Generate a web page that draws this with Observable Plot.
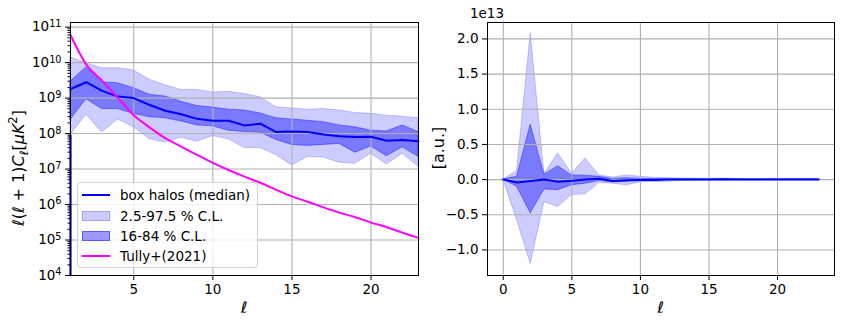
<!DOCTYPE html>
<html><head><meta charset="utf-8">
<script src="https://cdn.jsdelivr.net/npm/d3@7"></script>
<script src="https://cdn.jsdelivr.net/npm/@observablehq/plot@0.6"></script>
<style>
body{margin:0;background:#fff;font-family:"DejaVu Sans",sans-serif;}
#wrap{position:relative;width:843px;height:325px;overflow:hidden;background:#fff;}
#left,#right{position:absolute;top:0;}
#left{left:0;} #right{left:430px;}
.legend{position:absolute;left:77px;top:182px;width:181px;height:86px;border:1px solid #d4d4d4;border-radius:4px;background:rgba(255,255,255,0.8);box-sizing:border-box;font-size:13.5px;color:#000;}
.row{position:absolute;left:4px;height:20px;display:flex;align-items:center;white-space:nowrap;}
.hl{width:28px;height:0;border-top:2px solid;margin-right:10px;}
.hp{width:28px;height:10px;margin-right:10px;box-sizing:border-box;}
</style>
</head><body>
<div id="wrap"><div id="left"></div><div id="right"></div>
<div class="legend">
  <div class="row" style="top:2px"><div class="hl" style="border-color:blue"></div>box halos (median)</div>
  <div class="row" style="top:23px"><div class="hp" style="background:rgba(0,0,255,0.2);border:1px solid rgba(0,0,255,0.2)"></div>2.5-97.5 % C.L.</div>
  <div class="row" style="top:43px"><div class="hp" style="background:rgba(0,0,255,0.4);border:1px solid rgba(0,0,255,0.4)"></div>16-84 % C.L.</div>
  <div class="row" style="top:63px"><div class="hl" style="border-color:magenta"></div>Tully+(2021)</div>
</div>
</div>
<script>
// ---------- Left panel data (l = 1..23) ----------
const ellL = d3.range(1, 24);
const medianL = [1.8e9, 2.8e9, 1.6e9, 1.1e9, 1.0e9, 6.4e8, 4.4e8, 3.5e8, 2.6e8, 2.3e8, 2.3e8, 1.7e8, 1.9e8, 1.1e8, 1.15e8, 1.1e8, 9.4e7, 8.4e7, 8.0e7, 8.1e7, 6.3e7, 6.6e7, 6.1e7];
const hi68L = [2.9e9, 7.3e9, 2.8e9, 2.6e9, 1.9e9, 1.25e9, 1.1e9, 7.9e8, 6.0e8, 5.4e8, 4.7e8, 4.5e8, 3.7e8, 2.7e8, 2.5e8, 2.3e8, 2.1e8, 1.7e8, 1.5e8, 1.2e8, 1.15e8, 1.7e8, 1.1e8];
const lo68L = [2.4e8, 9.3e8, 4.9e8, 4.9e8, 3.6e8, 2.9e8, 2.7e8, 2.2e8, 1.7e8, 1.6e8, 1.2e8, 1.1e8, 1.07e8, 6.6e7, 4.8e7, 4.5e7, 4.8e7, 5.1e7, 2.9e7, 4.3e7, 2.3e7, 4.1e7, 2.2e7];
const hi95L = [1.4e10, 9.6e9, 6.9e9, 6.9e9, 6.0e9, 3.3e9, 2.3e9, 1.7e9, 1.7e9, 1.44e9, 1.5e9, 1.3e9, 1.06e9, 5.5e8, 5.1e8, 4.7e8, 4.9e8, 4.5e8, 3.8e8, 3.6e8, 3.2e8, 3.0e8, 2.7e8];
const lo95L = [9.1e7, 3.4e8, 1.07e8, 2.5e8, 1.5e8, 6.9e7, 5.6e7, 7.7e7, 5.9e7, 8.5e7, 6.9e7, 3.9e7, 3.9e7, 2.5e7, 1.25e7, 2.2e7, 2.1e7, 1.5e7, 1.4e7, 2.7e7, 1.35e7, 2.7e7, 1.17e7];
const tully = [6.0e10, 8.8e9, 3.1e9, 1.0e9, 3.3e8, 1.5e8, 7.4e7, 4.3e7, 2.5e7, 1.5e7, 9.4e6, 6.1e6, 4.1e6, 2.6e6, 1.7e6, 1.2e6, 8.3e5, 5.9e5, 4.4e5, 3.1e5, 2.3e5, 1.6e5, 1.15e5];
const yTicksL = [1e4, 1e5, 1e6, 1e7, 1e8, 1e9, 1e10, 1e11];
const xTicksL = [5, 10, 15, 20];

// ---------- Right panel data (l = 0..23), units of 1e13 ----------
const ellR = d3.range(0, 24);
const medianR = [0, -0.04, -0.02, 0.0, -0.03, -0.015, 0, 0.012, -0.02, -0.01, -0.005, -0.005, 0, 0, 0, 0.003, 0.005, 0, 0, 0, 0, 0, 0, 0.003];
const hi68R = [0, 0.04, 0.78, 0.07, 0.19, 0.06, 0.055, 0.04, 0.01, 0.02, 0.01, 0.008, 0.006, 0.005, 0.004, 0.004, 0.004, 0.003, 0.003, 0.003, 0.003, 0.003, 0.003, 0.003];
const lo68R = [0, -0.1, -0.48, -0.14, -0.15, -0.08, -0.06, -0.02, -0.04, -0.03, -0.02, -0.015, -0.01, -0.008, -0.006, -0.005, -0.004, -0.004, -0.003, -0.003, -0.003, -0.003, -0.003, -0.003];
const hi95R = [0, 0.12, 2.08, 0.08, 0.37, 0.085, 0.30, 0.06, 0.03, 0.06, 0.04, 0.025, 0.02, 0.015, 0.012, 0.01, 0.012, 0.008, 0.006, 0.006, 0.005, 0.005, 0.005, 0.005];
const lo95R = [0, -0.57, -1.20, -0.32, -0.39, -0.22, -0.21, -0.05, -0.06, -0.08, -0.04, -0.035, -0.03, -0.02, -0.015, -0.012, -0.012, -0.01, -0.01, -0.008, -0.007, -0.006, -0.006, -0.006];
const yTicksR = [-1.0, -0.5, 0.0, 0.5, 1.0, 1.5, 2.0];
const xTicksR = [0, 5, 10, 15, 20];

const rowsL = ellL.map((l, i) => ({l, med: medianL[i], hi68: hi68L[i], lo68: lo68L[i], hi95: hi95L[i], lo95: lo95L[i], tully: tully[i]}));
const rowsR = ellR.map((l, i) => ({l, med: medianR[i], hi68: hi68R[i], lo68: lo68R[i], hi95: hi95R[i], lo95: lo95R[i]}));

const expOf = d => String(Math.round(Math.log10(d)));
const yMinL = 1e4, yMaxL = 1.35e11;
const minorL = [];
for (let k = 4; k <= 10; k++) for (let m = 2; m <= 9; m++) minorL.push(m * Math.pow(10, k));

const FS = 13.5;
const gridStyle = {stroke: "#b0b0b0", strokeOpacity: 1, strokeWidth: 1.1};
const style = {fontFamily: "DejaVu Sans", fontSize: FS + "px", color: "black", background: "white", overflow: "visible"};

const left = Plot.plot({
  width: 430, height: 325,
  marginLeft: 70, marginRight: 12, marginTop: 22, marginBottom: 50,
  style,
  x: {domain: [1, 23]},
  y: {type: "log", domain: [yMinL, yMaxL]},
  marks: [
    Plot.areaY(rowsL, {x: "l", y1: "lo95", y2: "hi95", fill: "blue", fillOpacity: 0.2, stroke: "blue", strokeOpacity: 0.2}),
    Plot.areaY(rowsL, {x: "l", y1: "lo68", y2: "hi68", fill: "blue", fillOpacity: 0.4, stroke: "blue", strokeOpacity: 0.4}),
    Plot.gridX(xTicksL, gridStyle),
    Plot.gridY(yTicksL, gridStyle),
    Plot.lineY(rowsL, {x: "l", y: "med", stroke: "blue", strokeWidth: 2}),
    Plot.lineY(rowsL, {x: "l", y: "tully", stroke: "magenta", strokeWidth: 2, curve: "monotone-x"}),
    Plot.ruleX(rowsL.slice(0, 1), {x: "l", y1: () => yMinL, y2: "lo95", stroke: "blue", strokeWidth: 2.2}),
    Plot.frame({stroke: "black", strokeWidth: 1}),
    Plot.axisX(xTicksL, {tickSize: 5, tickPadding: 4, label: null, fontSize: FS}),
    Plot.axisY(yTicksL, {tickSize: 5, tickPadding: 4, tickFormat: d => "10|" + expOf(d), label: null, fontSize: FS}),
    Plot.axisY(minorL, {tickSize: 2.5, text: null, label: null})
  ]
});
document.getElementById("left").appendChild(left);

// turn "10|e" labels into 10 with a real superscript
d3.select(left).selectAll("text").each(function() {
  const t = this.textContent;
  if (/^10\|\d+$/.test(t)) {
    const e = t.split("|")[1];
    const s = d3.select(this);
    s.text(null);
    s.append("tspan").text("10");
    s.append("tspan").attr("dy", "-0.45em").attr("font-size", "0.72em").text(e);
  }
});

const right = Plot.plot({
  width: 413, height: 325,
  marginLeft: 57, marginRight: 9, marginTop: 22, marginBottom: 50,
  style,
  x: {domain: [-1.15, 24.15]},
  y: {domain: [-1.3635, 2.2335]},
  marks: [
    Plot.areaY(rowsR, {x: "l", y1: "lo95", y2: "hi95", fill: "blue", fillOpacity: 0.2, stroke: "blue", strokeOpacity: 0.2}),
    Plot.areaY(rowsR, {x: "l", y1: "lo68", y2: "hi68", fill: "blue", fillOpacity: 0.4, stroke: "blue", strokeOpacity: 0.4}),
    Plot.gridX(xTicksR, gridStyle),
    Plot.gridY(yTicksR, gridStyle),
    Plot.lineY(rowsR, {x: "l", y: "med", stroke: "blue", strokeWidth: 2}),
    Plot.frame({stroke: "black", strokeWidth: 1}),
    Plot.axisX(xTicksR, {tickSize: 5, tickPadding: 4, label: null, fontSize: FS}),
    Plot.axisY(yTicksR, {tickSize: 5, tickPadding: 4, tickFormat: d3.format(".1f"), label: null, fontSize: FS})
  ]
});
document.getElementById("right").appendChild(right);

// axis titles
const ls = d3.select(left);
ls.append("text")
  .attr("transform", "translate(24,168) rotate(-90)")
  .attr("text-anchor", "middle").attr("font-size", 16).attr("fill", "black")
  .html('<tspan font-style="italic">ℓ</tspan>(<tspan font-style="italic">ℓ</tspan> + 1)<tspan font-style="italic">C</tspan><tspan font-style="italic" font-size="11.5" dy="3.5">ℓ</tspan><tspan dy="-3.5">[</tspan><tspan font-style="italic">μK</tspan><tspan font-size="11.5" dy="-7">2</tspan><tspan dy="7">]</tspan>');
ls.append("text").attr("x", 244).attr("y", 313).attr("text-anchor", "middle")
  .attr("font-size", 16).attr("font-style", "italic").attr("fill", "black").text("ℓ");

const rs = d3.select(right);
rs.append("text")
  .attr("transform", "translate(14,148) rotate(-90)")
  .attr("text-anchor", "middle").attr("font-size", 16).attr("fill", "black").text("[a.u.]");
rs.append("text").attr("x", 230.5).attr("y", 313).attr("text-anchor", "middle")
  .attr("font-size", 16).attr("font-style", "italic").attr("fill", "black").text("ℓ");
rs.append("text").attr("x", 57).attr("y", 18).attr("font-size", FS).attr("fill", "black").text("1e13");
</script>
</body></html>
